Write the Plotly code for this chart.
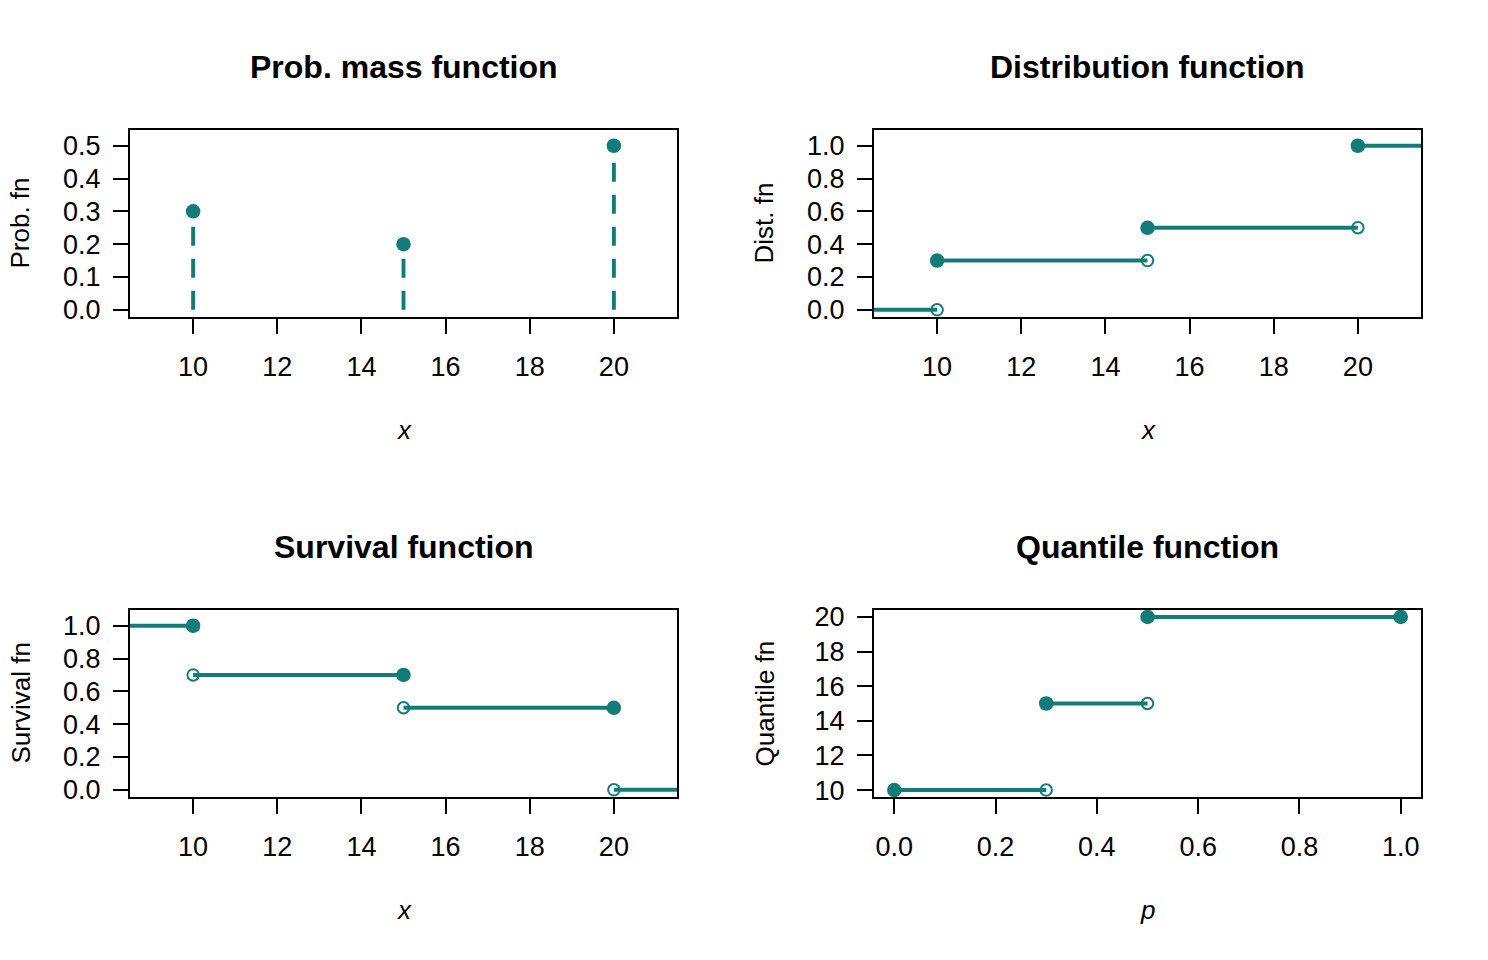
import numpy as np
import plotly.graph_objects as go
from plotly.subplots import make_subplots

# ---- data ----
x_vals = [10, 15, 20]
probs = [0.3, 0.2, 0.5]
titles = ["Prob. mass function", "Distribution function", "Survival function", "Quantile function"]
ylabels = ["Prob. fn", "Dist. fn", "Survival fn", "Quantile fn"]
xlabels = ["x", "x", "x", "p"]
x_ticks = [10, 12, 14, 16, 18, 20]
pmf_ticks = [0.0, 0.1, 0.2, 0.3, 0.4, 0.5]
unit_ticks = [0.0, 0.2, 0.4, 0.6, 0.8, 1.0]
q_ticks = [10, 12, 14, 16, 18, 20]

cdf = list(np.cumsum(probs))
cdf_prev = [0.0] + cdf[:-1]
surv_before = [1 - c for c in cdf_prev]
surv_after = [1 - c for c in cdf]

COL = "#127C78"
W, H = 1488, 960
FONT = "Liberation Sans, Arial, sans-serif"

fig = make_subplots(rows=2, cols=2)

lo = x_vals[0] - 2
hi = x_vals[-1] + 2


def seg_arrays(x0s, x1s, ys):
    xs, yy = [], []
    for a, b, y in zip(x0s, x1s, ys):
        xs += [a, b, None]
        yy += [y, y, None]
    return xs, yy


def add_points(xs, ys, filled, row, col):
    if filled:
        m = dict(symbol="circle", size=14.5, color=COL, line=dict(width=0))
    else:
        m = dict(symbol="circle-open", size=11.5, color=COL, line=dict(width=2, color=COL))
    fig.add_trace(go.Scatter(x=xs, y=ys, mode="markers", marker=m, showlegend=False,
                             cliponaxis=False), row=row, col=col)


def add_lines(xs, ys, row, col, dash="solid"):
    fig.add_trace(go.Scatter(x=xs, y=ys, mode="lines",
                             line=dict(color=COL, width=3.9, dash=dash),
                             showlegend=False, connectgaps=False), row=row, col=col)


# Panel 1: PMF
sx, sy = [], []
for xv, p in zip(x_vals, probs):
    sx += [xv, xv, None]
    sy += [0, p, None]
add_lines(sx, sy, 1, 1, dash="19px,13px")
add_points(x_vals, probs, True, 1, 1)

# Panel 2: CDF
breaks = [lo] + x_vals + [hi]
levels = [0.0] + cdf
xs, ys = seg_arrays(breaks[:-1], breaks[1:], levels)
add_lines(xs, ys, 1, 2)
add_points(x_vals, cdf_prev, False, 1, 2)
add_points(x_vals, cdf, True, 1, 2)

# Panel 3: Survival
levels_s = [1.0] + surv_after
xs, ys = seg_arrays(breaks[:-1], breaks[1:], levels_s)
add_lines(xs, ys, 2, 1)
add_points(x_vals, surv_after, False, 2, 1)
add_points(x_vals, surv_before, True, 2, 1)

# Panel 4: Quantile
p_lo = cdf_prev
p_hi = cdf
xs, ys = seg_arrays(p_lo, p_hi, x_vals)
add_lines(xs, ys, 2, 2)
add_points(p_hi[:-1], x_vals[:-1], False, 2, 2)
add_points(p_lo + [p_hi[-1]], x_vals + [x_vals[-1]], True, 2, 2)

# ---- layout ----
px_x = [(130, 677), (874, 1421)]
px_y = [(130, 317), (610, 797)]

axis_common = dict(showline=True, mirror=True, linecolor="black", linewidth=2,
                   ticks="outside", ticklen=15, tickwidth=2, tickcolor="black",
                   showgrid=False, zeroline=False, automargin=False,
                   tickfont=dict(family=FONT, size=27, color="black"))

specs = [
    (1, 1, [8.5, 21.5], x_ticks, "d", [-0.022, 0.548], pmf_ticks, ".1f"),
    (1, 2, [8.5, 21.5], x_ticks, "d", [-0.044, 1.096], unit_ticks, ".1f"),
    (2, 1, [8.5, 21.5], x_ticks, "d", [-0.044, 1.096], unit_ticks, ".1f"),
    (2, 2, [-0.04, 1.04], unit_ticks, ".1f", [9.6, 20.4], q_ticks, "d"),
]

annotations = []
for i, (r, c, xr, xt, xf, yr, yt, yf) in enumerate(specs):
    idx = (r - 1) * 2 + c
    xa = "xaxis" if idx == 1 else f"xaxis{idx}"
    ya = "yaxis" if idx == 1 else f"yaxis{idx}"
    x0, x1 = px_x[c - 1]
    y0, y1 = px_y[r - 1]
    fig.layout[xa].update(domain=[x0 / W, x1 / W], range=xr, tickvals=xt, tickformat=xf,
                          ticklabelstandoff=10, **axis_common)
    fig.layout[ya].update(domain=[1 - y1 / H, 1 - y0 / H], range=yr, tickvals=yt, tickformat=yf,
                          ticklabelstandoff=7, **axis_common)
    cx = (x0 + x1) / 2 / W
    # title
    annotations.append(dict(text=f"<b>{titles[i]}</b>", x=cx, y=1 - (y0 - 63) / H,
                            xref="paper", yref="paper", xanchor="center", yanchor="middle",
                            showarrow=False, font=dict(family=FONT, size=32, color="black")))
    # x label
    annotations.append(dict(text=f"<i>{xlabels[i]}</i>", x=cx, y=1 - (y0 + 300) / H,
                            xref="paper", yref="paper", xanchor="center", yanchor="middle",
                            showarrow=False, font=dict(family=FONT, size=26, color="black")))
    # y label
    annotations.append(dict(text=ylabels[i], x=(x0 - 110) / W, y=1 - (y0 + y1) / 2 / H,
                            xref="paper", yref="paper", xanchor="center", yanchor="middle",
                            textangle=-90, showarrow=False,
                            font=dict(family=FONT, size=26, color="black")))

fig.update_layout(width=W, height=H, margin=dict(l=0, r=0, t=0, b=0, pad=0, autoexpand=False),
                  paper_bgcolor="white", plot_bgcolor="white",
                  annotations=annotations, showlegend=False)

fig.write_html("out.html")
